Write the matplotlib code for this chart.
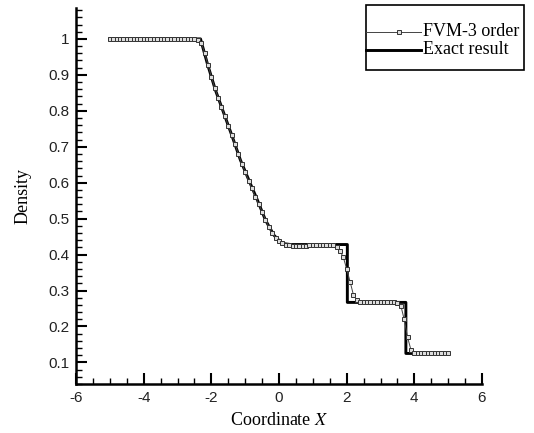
import numpy as np
import matplotlib
matplotlib.use("Agg")
import matplotlib.pyplot as plt
from matplotlib.ticker import MultipleLocator
from matplotlib.lines import Line2D
from matplotlib.patches import Rectangle

plt.rcParams["mathtext.fontset"] = "stix"
plt.rcParams["axes.unicode_minus"] = False

# exact Riemann solution (density), read as a polyline
x_exact = [-5.0, -2.32, -2.12, -1.88, -1.63, -1.38, -1.14, -0.89, -0.64, -0.40,
           -0.15, 0.09, 0.34, 2.02, 2.02, 3.75, 3.75, 5.0]
rho_exact = [1.0, 1.0, 0.932, 0.858, 0.793, 0.728, 0.663, 0.607, 0.552, 0.496,
             0.454, 0.431, 0.428, 0.428, 0.267, 0.267, 0.125, 0.125]

# 3rd order FVM solution on the uniform mesh, dx = 0.1
x_fvm = np.linspace(-5.0, 5.0, 101)
rho_fvm = [
    1.0, 1.0, 1.0, 1.0, 1.0, 1.0, 1.0, 1.0, 1.0, 1.0,          # -5.0 .. -4.1
    1.0, 1.0, 1.0, 1.0, 1.0, 1.0, 1.0, 1.0, 1.0, 1.0,          # -4.0 .. -3.1
    1.0, 1.0, 1.0, 1.0, 1.0, 0.999, 0.998, 0.99, 0.962, 0.928,  # -3.0 .. -2.1
    0.895, 0.864, 0.837, 0.811, 0.785, 0.759, 0.733, 0.707, 0.679, 0.653,  # -2.0 .. -1.1
    0.630, 0.606, 0.584, 0.561, 0.541, 0.519, 0.497, 0.477, 0.460, 0.447,  # -1.0 .. -0.1
    0.437, 0.431, 0.428, 0.426, 0.424, 0.424, 0.424, 0.425, 0.425, 0.426,  # 0.0 .. 0.9
    0.426, 0.426, 0.426, 0.426, 0.426, 0.426, 0.426, 0.422, 0.410, 0.393,  # 1.0 .. 1.9
    0.360, 0.325, 0.288, 0.274, 0.269, 0.267, 0.267, 0.267, 0.267, 0.267,  # 2.0 .. 2.9
    0.267, 0.267, 0.267, 0.267, 0.267, 0.266, 0.258, 0.220, 0.170, 0.135,  # 3.0 .. 3.9
    0.127, 0.125, 0.125, 0.125, 0.125, 0.125, 0.125, 0.125, 0.125, 0.125,  # 4.0 .. 4.9
    0.125,                                                                   # 5.0
]

serif = "Liberation Serif"
sans = "Liberation Sans"
W, H = 534, 433

fvm_style = dict(color="#444444", lw=0.7, marker="s", ms=3.2,
                 mfc="#dddddd", mec="#333333", mew=0.7)
exact_style = dict(color="black", lw=2.1)

fig = plt.figure(figsize=(W / 100, H / 100), dpi=100)
ax = fig.add_axes([76 / W, 1 - 384 / H, 406 / W, 376 / H])

ax.plot(x_fvm, rho_fvm, zorder=3, **fvm_style)
ax.plot(x_exact, rho_exact, zorder=2, **exact_style)

ax.set_xlim(-6, 6)
ax.set_ylim(0.04, 1.086)
ax.xaxis.set_major_locator(MultipleLocator(2))
ax.xaxis.set_minor_locator(MultipleLocator(0.5))
ax.yaxis.set_minor_locator(MultipleLocator(0.02))
ax.set_yticks(np.arange(0.1, 1.01, 0.1))
ax.set_yticklabels(["0.1", "0.2", "0.3", "0.4", "0.5", "0.6", "0.7", "0.8", "0.9", "1"])

for side in ("top", "right"):
    ax.spines[side].set_visible(False)
for side in ("left", "bottom"):
    ax.spines[side].set_linewidth(1.8)

ax.tick_params(which="major", direction="in", length=8, width=1.5, labelsize=11,
               labelcolor="#222222", pad=5)
ax.tick_params(which="minor", direction="in", length=4, width=1.0)
for lab in ax.get_xticklabels() + ax.get_yticklabels():
    lab.set_family(sans)

ax.set_ylabel("Density", family=serif, fontsize=13, labelpad=12)
ax.set_xlabel("Coordinate $\\mathit{X}$", family=serif, fontsize=13, labelpad=5)

# legend box drawn in pixel coordinates of the figure
def px(x, y):
    return x / W, 1 - y / H

x0, y0 = px(366, 70)
x1, y1 = px(524, 5)
fig.add_artist(Rectangle((x0, y0), x1 - x0, y1 - y0, transform=fig.transFigure,
                         fill=False, edgecolor="black", lw=1.2))
entries = [("FVM-3 order", fvm_style, 32), ("Exact result", exact_style, 50)]
for text, style, yy in entries:
    xa, ya = px(366, yy)
    xb, _ = px(421, yy)
    fig.add_artist(Line2D([xa, xb], [ya, ya], transform=fig.transFigure,
                          **{k: v for k, v in style.items() if not k.startswith("m")}))
    if "marker" in style:
        xm, _ = px(399, yy)
        fig.add_artist(Line2D([xm], [ya], transform=fig.transFigure, ls="none", **style))
    fig.text(px(423, yy)[0], ya, text, family=serif, fontsize=13,
             ha="left", va="center")

fig.savefig("out.png", dpi=100, facecolor="white")
